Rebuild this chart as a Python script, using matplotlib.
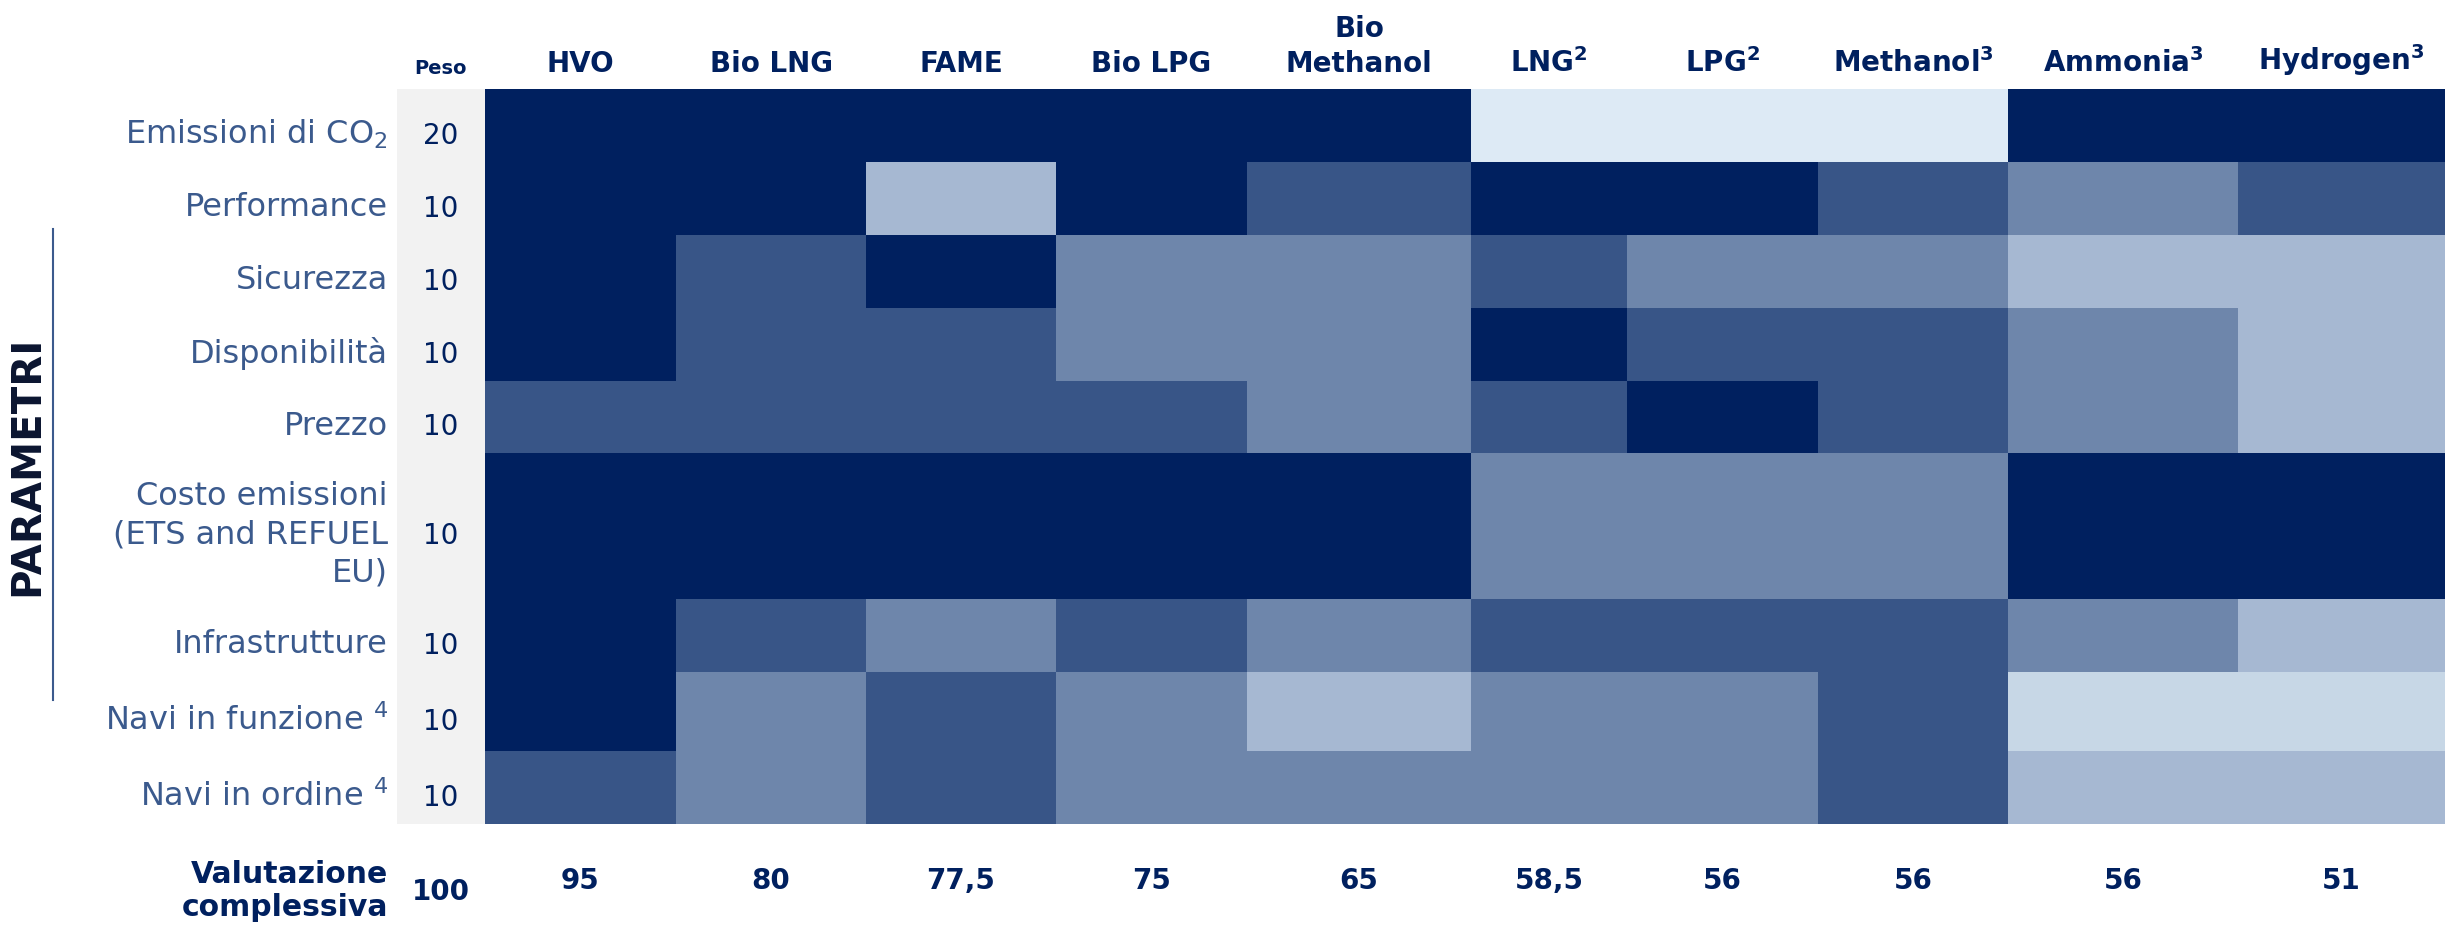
import numpy as np
import matplotlib
matplotlib.use('Agg')
import matplotlib.pyplot as plt
from matplotlib.colors import ListedColormap, BoundaryNorm
import matplotlib.patches as patches

plt.rcParams['font.family'] = ['DejaVu Sans']
plt.rcParams['mathtext.fontset'] = 'dejavusans'

# ---- dati ----
fuels = ['HVO', 'Bio LNG', 'FAME', 'Bio LPG', 'Bio\nMethanol',
         r'LNG$^{\mathbf{2}}$', r'LPG$^{\mathbf{2}}$', r'Methanol$^{\mathbf{3}}$',
         r'Ammonia$^{\mathbf{3}}$', r'Hydrogen$^{\mathbf{3}}$']
params = [r'Emissioni di CO$_2$', 'Performance', 'Sicurezza', 'Disponibilità',
          'Prezzo', 'Costo emissioni\n(ETS and REFUEL\nEU)', 'Infrastrutture',
          r'Navi in funzione $^4$', r'Navi in ordine $^4$']
weights = [20, 10, 10, 10, 10, 10, 10, 10, 10]
total_weight = 100
scores = [95, 80, 77.5, 75, 65, 58.5, 56, 56, 56, 51]

# 5 = blu scuro (migliore) ... 0 = azzurro chiaro
levels = np.array([
    [5, 5, 5, 5, 5, 0, 0, 0, 5, 5],   # Emissioni di CO2
    [5, 5, 2, 5, 4, 5, 5, 4, 3, 4],   # Performance
    [5, 4, 5, 3, 3, 4, 3, 3, 2, 2],   # Sicurezza
    [5, 4, 4, 3, 3, 5, 4, 4, 3, 2],   # Disponibilita
    [4, 4, 4, 4, 3, 4, 5, 4, 3, 2],   # Prezzo
    [5, 5, 5, 5, 5, 3, 3, 3, 5, 5],   # Costo emissioni
    [5, 4, 3, 4, 3, 4, 4, 4, 3, 2],   # Infrastrutture
    [5, 3, 4, 3, 2, 3, 3, 4, 1, 1],   # Navi in funzione
    [4, 3, 4, 3, 3, 3, 3, 4, 2, 2],   # Navi in ordine
])

# ---- layout (pixel) ----
W, H = 2445, 930
col_w = [191, 190, 190, 191, 224, 156, 191, 190, 230, 207]
row_h = [73, 73, 73, 73, 72, 146, 73, 79, 73]
x0, y0 = 485, 89
peso_x0 = 397

navy = '#00205F'
label_col = '#3B5A8D'
cmap = ListedColormap(['#DDEAF5', '#C7D7E6', '#A6B8D2', '#6E86AB', '#385587', '#00205F'])
norm = BoundaryNorm(np.arange(-0.5, 6, 1), cmap.N)

xe = x0 + np.concatenate([[0], np.cumsum(col_w)])
ye = y0 + np.concatenate([[0], np.cumsum(row_h)])
xc = (xe[:-1] + xe[1:]) / 2
yc = (ye[:-1] + ye[1:]) / 2
peso_c = (peso_x0 + x0) / 2

fig = plt.figure(figsize=(W / 100, H / 100), dpi=100)
ax = fig.add_axes([0, 0, 1, 1])
ax.set_xlim(0, W)
ax.set_ylim(H, 0)
ax.axis('off')

# colonna peso
ax.add_patch(patches.Rectangle((peso_x0, ye[0]), x0 - peso_x0, ye[-1] - ye[0],
                               facecolor='#F2F2F2', edgecolor='none'))
ax.pcolormesh(xe, ye, levels, cmap=cmap, norm=norm, shading='flat')

# intestazioni
for x, f in zip(xc, fuels):
    ax.text(x, 78, f, ha='center', va='bottom', fontsize=20, fontweight='bold',
            color=navy, linespacing=1.3)
ax.text(peso_c, 78, 'Peso', ha='center', va='bottom', fontsize=14,
        fontweight='bold', color=navy)

# righe
for y, p, w in zip(yc, params, weights):
    ax.text(388, y + 9, p, ha='right', va='center', fontsize=23,
            fontweight='normal', color=label_col, linespacing=1.3)
    ax.text(peso_c, y + 10, str(w), ha='center', va='center', fontsize=20,
            color=navy)

# valutazione complessiva
ax.text(388, 891, 'Valutazione\ncomplessiva', ha='right', va='center',
        fontsize=21.5, fontweight='bold', color=navy, linespacing=1.2)
ax.text(peso_c, 892, str(total_weight), ha='center', va='center', fontsize=20,
        fontweight='bold', color=navy)
for x, s in zip(xc, scores):
    ax.text(x, 881, f'{s:g}'.replace('.', ','), ha='center', va='center',
            fontsize=20, fontweight='bold', color=navy)

# PARAMETRI
ax.plot([53, 53], [229, 700], color=label_col, lw=1.5)
ax.text(27, 466, 'PARAMETRI', rotation=90, ha='center', va='center',
        fontsize=29, fontweight='bold', color='#0B1530')

fig.savefig('out.png', dpi=100)
